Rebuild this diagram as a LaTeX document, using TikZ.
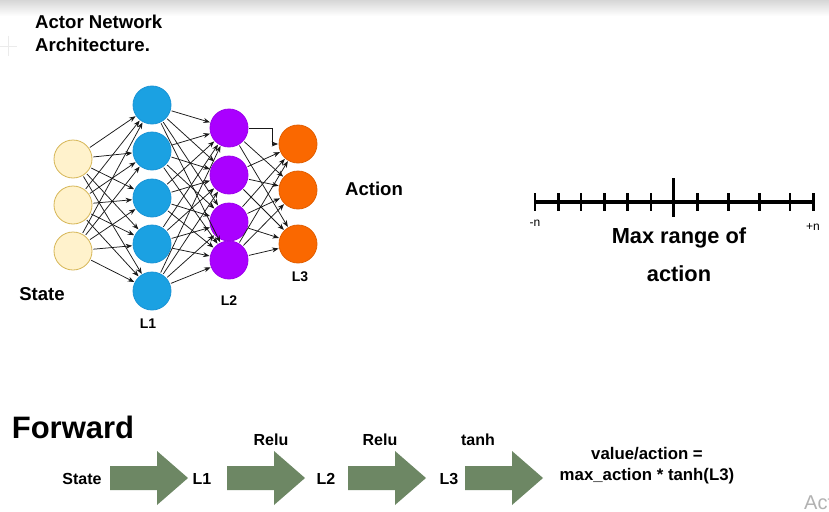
\documentclass[tikz,border=0pt]{standalone}
\usepackage{fontspec}
\setmainfont{Liberation Sans}
\usetikzlibrary{arrows.meta}
\definecolor{cream}{HTML}{FFF2CC}
\definecolor{creamline}{HTML}{D6B656}
\definecolor{lonefill}{HTML}{1BA1E2}
\definecolor{loneline}{HTML}{1A94D6}
\definecolor{ltwofill}{HTML}{AA00FF}
\definecolor{ltwoline}{HTML}{9C00EC}
\definecolor{lthreefill}{HTML}{FA6800}
\definecolor{lthreeline}{HTML}{E25E00}
\definecolor{fwd}{HTML}{6D8764}
\begin{document}
\begin{tikzpicture}[x=1pt,y=-1pt,
  neuron/.style={circle,minimum size=38pt,inner sep=0pt,line width=0.8pt},
  inp/.style={neuron,fill=cream,draw=creamline},
  lone/.style={neuron,fill=lonefill,draw=loneline},
  ltwo/.style={neuron,fill=ltwofill,draw=ltwoline},
  lthree/.style={neuron,fill=lthreefill,draw=lthreeline},
  conn/.style={-{Stealth[length=6.5pt,width=5pt]},line width=0.75pt,black!90,shorten <=1pt,shorten >=0.5pt},
  lbl/.style={inner sep=0pt,font=\bfseries\fontsize{14}{16}\selectfont},
  big/.style={inner sep=0pt,font=\bfseries\fontsize{18.6}{23}\selectfont},
  huge/.style={inner sep=0pt,font=\bfseries\fontsize{21.8}{24}\selectfont},
  fl/.style={inner sep=0pt,font=\bfseries\fontsize{16}{18}\selectfont},
  tick/.style={line width=3.2pt,black},
  fwdarrow/.style={fill=fwd}
]
\useasboundingbox (0,0) rectangle (829,511);
\fill[white] (0,0) rectangle (829,511);
\shade[top color=black!16,bottom color=white] (0,0) rectangle (829,16);
\draw[black!8,line width=0.8pt] (0,46) -- (17,46) (8,36) -- (8,56);

% title
\node[big,anchor=west,align=left] (title) at (35,33.5) {Actor Network\\Architecture.};

% neurons
\node[inp] (i1) at (73,159) {};
\node[inp] (i2) at (73,205) {};
\node[inp] (i3) at (73,251) {};
\node[lone] (a1) at (152,105) {};
\node[lone] (a2) at (152,151) {};
\node[lone] (a3) at (152,198) {};
\node[lone] (a4) at (152,244) {};
\node[lone] (a5) at (152,291) {};
\node[ltwo] (b1) at (229,128) {};
\node[ltwo] (b2) at (229,175) {};
\node[ltwo] (b3) at (229,222) {};
\node[ltwo] (b4) at (229,260) {};
\node[lthree] (c1) at (298,144) {};
\node[lthree] (c2) at (298,190) {};
\node[lthree] (c3) at (298,244) {};

% connections
\foreach \i in {1,2,3} \foreach \j in {1,...,5} \draw[conn] (i\i) -- (a\j);
\foreach \i in {1,...,5} \foreach \j in {1,...,4} \draw[conn] (a\i) -- (b\j);
\foreach \i/\j in {1/2,1/3,2/1,2/2,2/3,3/1,3/2,3/3,4/1,4/2,4/3} \draw[conn] (b\i) -- (c\j);
\coordinate (elbow) at (272,144);
\draw[conn] (b1.east) -| (elbow) -- (c1.west);

% labels
\node[big] (state) at (42,294) {State};
\node[lbl] (lone) at (148,324) {L1};
\node[lbl] (ltwo) at (229,301) {L2};
\node[lbl] (lthree) at (300,277) {L3};
\node[big] (action) at (374,189) {Action};

% number line
\coordinate (nl) at (535,202);
\coordinate (nr) at (815,202);
\draw[tick] (nl) -- (nr);
\foreach \x in {535,558.3,581,604.3,627.7,651,697.7,728.3,759.3,790,813.3}
  \draw[tick,line width=2.6pt] (\x,193) -- (\x,210.5);
\draw[tick,line width=2.8pt] (673.3,178) -- (673.3,217);
\node[inner sep=0pt,font=\fontsize{12}{14}\selectfont] (mn) at (535,223) {-n};
\node[inner sep=0pt,font=\fontsize{12}{14}\selectfont] (pn) at (813,227) {+n};
\node[huge] (mr) at (679,238) {Max range of};
\node[huge] (ac) at (679,274) {action};

% forward
\node[inner sep=0pt,font=\bfseries\fontsize{31}{34}\selectfont] (fw) at (73,427) {Forward};
\foreach \x/\n in {110/fa,227/fb,348/fc,465/fd}{
  \fill[fwdarrow] (\x,466) -- ++(47,0) -- ++(0,-15) -- ++(31,27) -- ++(-31,27) -- ++(0,-15) -- ++(-47,0) -- cycle;
  \coordinate (\n) at (\x,478);
}
\node[fl] (s) at (82,479) {State};
\node[fl] (f1) at (202,479) {L1};
\node[fl] (f2) at (326,479) {L2};
\node[fl] (f3) at (449,479) {L3};
\node[fl] (r1) at (271,440) {Relu};
\node[fl] (r2) at (380,440) {Relu};
\node[fl] (th) at (478,440) {tanh};
\node[inner sep=0pt,align=center,font=\bfseries\fontsize{16.8}{21}\selectfont] (va) at (647,466) {value/action =\\max\_action * tanh(L3)};
\node[inner sep=0pt,anchor=west,text=black!30,font=\fontsize{20}{24}\selectfont] (act) at (804,503) {Act};
\end{tikzpicture}
\end{document}
